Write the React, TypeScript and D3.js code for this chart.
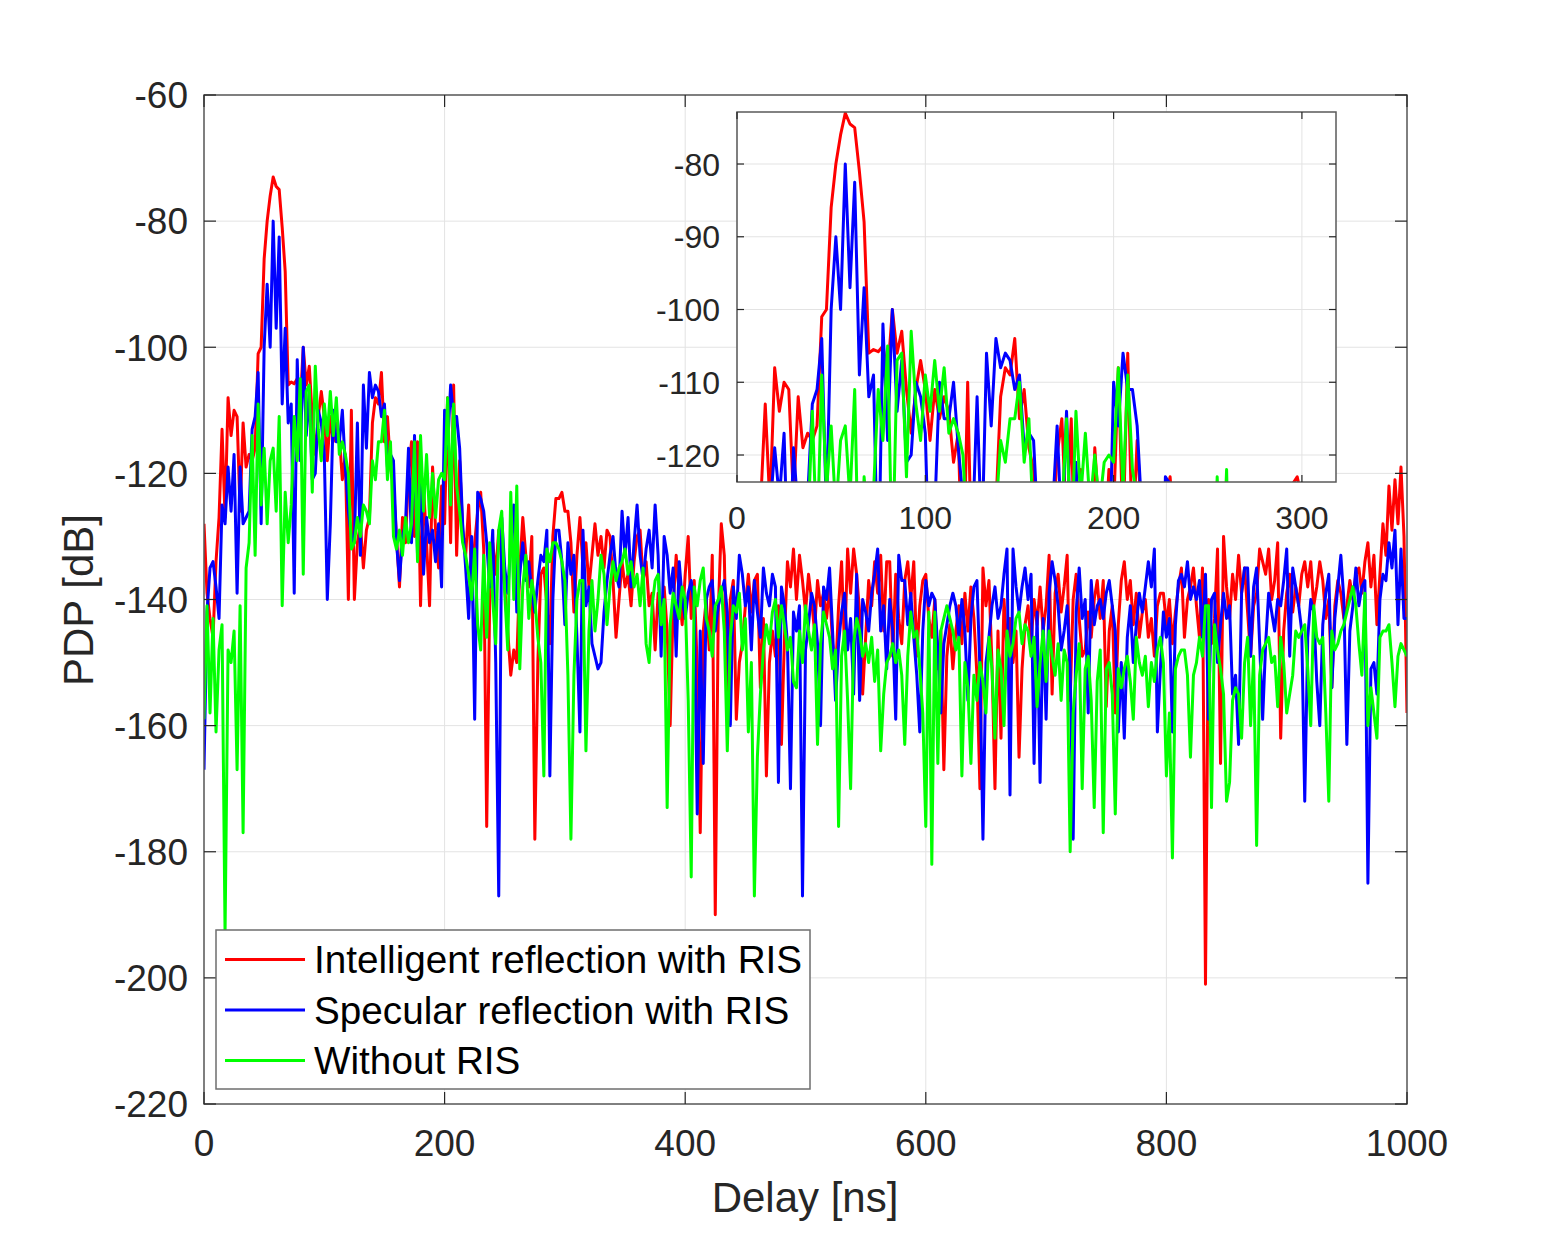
import React from 'react';
import * as d3 from 'd3';

// sampling step of the delay axis [ns]
const delayStep = 2.5;

// PDP [dB], one value per 2.5 ns from 0 to 1000 ns
const intelligentRis = [
  -128, -139, -143, -146, -134, -127, -113, -127, -108, -114,
  -110, -111, -126, -112, -119, -117, -118, -116, -101, -100,
  -86, -80, -76, -73, -74.5, -75, -81, -88, -106, -105.5,
  -105.8, -105, -109, -100, -106, -103, -111, -117, -111, -107,
  -111, -118, -111, -115, -112, -114, -121, -117, -140, -110,
  -140, -131, -128, -135, -129, -127, -112, -108, -109, -104,
  -115, -111, -119, -122, -130, -138, -127, -131, -120, -115,
  -130, -115, -141, -122, -131, -141, -119, -129, -135, -122,
  -128, -108, -131, -106, -133, -118, -129, -133, -125, -137,
  -131, -126, -123, -132, -176, -140, -131, -136, -129, -134,
  -138, -145, -152, -148, -150, -135, -127, -133, -138, -130,
  -178, -150, -136, -135, -141, -147, -130, -124, -124, -123,
  -126, -126, -131, -142, -133, -127, -135, -131, -138, -133,
  -128, -133, -130, -135, -129, -130, -137, -146, -140, -134,
  -138, -136, -141, -134, -130, -129, -137, -134, -141, -139,
  -148, -139, -144, -138, -145, -160, -141, -133, -139, -144,
  -136, -130, -143, -137, -151, -177, -145, -140, -148, -133,
  -190, -142, -128, -133, -157, -140, -137, -159, -150, -147,
  -141, -136, -142, -137, -136, -154, -143, -168, -150, -145,
  -149, -141, -163, -146, -134, -138, -132, -140, -133, -137,
  -142, -136, -140, -145, -137, -141, -139, -143, -138, -147,
  -152, -141, -134, -148, -132, -139, -132, -136, -142, -155,
  -146, -137, -141, -134, -139, -133, -145, -134, -134, -149,
  -136, -143, -147, -137, -134, -140, -134, -149, -141, -137,
  -136, -143, -146, -140, -151, -145, -167, -149, -144, -151,
  -145, -141, -147, -139, -145, -138, -143, -152, -170, -135,
  -141, -137, -150, -170, -145, -162, -140, -148, -143, -150,
  -145, -165, -151, -144, -141, -147, -140, -144, -138, -145,
  -141, -133, -155, -139, -136, -142, -138, -133, -156, -140,
  -136, -143, -149, -148, -142, -146, -140, -137, -143, -137,
  -157, -145, -141, -158, -144, -137, -134, -140, -137, -144,
  -139, -146, -142, -140, -146, -143, -149, -141, -139, -139,
  -144, -140, -147, -142, -138, -135, -146, -140, -138, -135,
  -141, -146, -135, -201, -140, -147, -143, -132, -166, -130,
  -138, -143, -136, -140, -133, -139, -135, -142, -149, -141,
  -139, -132, -134, -136, -132, -140, -137, -131, -162, -145,
  -139, -136, -142, -138, -141, -136, -134, -138, -134, -141,
  -138, -134, -137, -143, -140, -154, -141, -137, -139, -143,
  -141, -137, -140, -136, -135, -139, -134, -131, -138, -133,
  -144, -136, -128, -133, -122, -129, -121, -128, -119, -130,
  -158,
];

const specularRis = [
  -167, -142, -135, -134, -138, -143, -125, -128, -119, -126,
  -117, -139, -119, -128, -127, -126, -113, -111, -104, -128,
  -100, -90, -100, -80, -97, -82.5, -109, -97, -112, -109,
  -139, -102, -118, -100, -114, -107, -121, -120, -110, -112,
  -117, -140, -128, -110, -115, -115, -110, -119, -126, -130,
  -131, -112, -133, -106, -116, -104, -108, -106, -107, -111,
  -109, -119, -117, -118, -131, -137, -130, -128, -116, -131,
  -114, -133, -121, -136, -127, -131, -129, -134, -128, -138,
  -110, -116, -106, -111, -111, -116, -128, -135, -143, -130,
  -159, -123, -124, -126, -131, -138, -129, -150, -187, -127,
  -135, -139, -131, -125, -142, -136, -131, -137, -134, -139,
  -142, -137, -133, -134, -129, -168, -140, -129, -129, -134,
  -144, -131, -136, -133, -146, -161, -129, -141, -138, -147,
  -149, -151, -150, -142, -137, -133, -130, -136, -138, -126,
  -133, -127, -138, -131, -125, -133, -137, -132, -129, -135,
  -125, -133, -149, -130, -133, -139, -135, -149, -134, -140,
  -143, -139, -137, -141, -174, -145, -166, -140, -138, -137,
  -145, -141, -139, -137, -142, -160, -138, -143, -133, -136,
  -141, -138, -148, -137, -142, -146, -135, -139, -141, -136,
  -138, -169, -138, -141, -147, -170, -142, -145, -141, -187,
  -148, -144, -139, -141, -147, -160, -138, -140, -135, -145,
  -156, -147, -142, -139, -148, -143, -155, -136, -156, -140,
  -142, -145, -139, -136, -132, -145, -141, -151, -140, -145,
  -159, -133, -137, -137, -144, -139, -146, -152, -161, -145,
  -137, -141, -139, -140, -148, -158, -147, -144, -141, -139,
  -141, -146, -140, -145, -156, -143, -138, -137, -151, -178,
  -150, -146, -141, -138, -143, -141, -136, -132, -171, -132,
  -138, -142, -138, -135, -140, -136, -166, -142, -169, -143,
  -159, -139, -134, -137, -141, -148, -145, -141, -151, -178,
  -142, -135, -143, -140, -158, -137, -144, -141, -140, -143,
  -139, -137, -141, -145, -161, -150, -162, -146, -141, -150,
  -144, -139, -142, -138, -134, -138, -132, -161, -151, -142,
  -146, -143, -161, -144, -137, -136, -138, -134, -140, -138,
  -140, -137, -146, -136, -159, -140, -139, -150, -144, -139,
  -143, -141, -155, -152, -163, -139, -135, -135, -149, -138,
  -135, -147, -159, -147, -139, -142, -145, -140, -141, -137,
  -132, -149, -135, -138, -141, -145, -172, -146, -140, -142,
  -153, -160, -144, -139, -136, -154, -143, -138, -133, -140,
  -163, -145, -141, -135, -141, -138, -137, -185, -151, -150,
  -155, -140, -136, -137, -131, -135, -129, -144, -132, -143,
  -143,
];

const withoutRis = [
  -159, -141, -158, -143, -161, -148, -144, -193, -148, -150,
  -145, -167, -141, -177, -135, -131, -114, -133, -109, -125,
  -116, -128, -118, -116, -126, -111, -141, -123, -131, -125,
  -111, -118, -105, -136, -107, -106, -123, -103, -113, -118,
  -109, -114, -107, -114, -108, -117, -115, -117, -120, -132,
  -131, -127, -130, -125, -126, -128, -118, -121, -115, -115,
  -110, -121, -115, -130, -132, -129, -133, -127, -131, -128,
  -115, -134, -114, -126, -117, -127, -120, -127, -121, -120,
  -121, -108, -125, -109, -122, -126, -131, -133, -136, -140,
  -132, -144, -148, -133, -146, -131, -140, -147, -129, -126,
  -139, -148, -123, -140, -122, -151, -138, -133, -143, -137,
  -140, -146, -150, -168, -132, -134, -131, -131, -132, -134,
  -137, -152, -178, -152, -140, -137, -137, -164, -145, -137,
  -145, -140, -133, -136, -144, -138, -134, -137, -135, -134,
  -132, -136, -134, -138, -136, -141, -135, -147, -150, -141,
  -137, -136, -144, -140, -173, -144, -139, -141, -143, -138,
  -140, -156, -184, -138, -141, -137, -135, -143, -145, -149,
  -141, -140, -138, -145, -164, -146, -141, -142, -139, -148,
  -143, -161, -150, -187, -165, -155, -148, -144, -147, -142,
  -140, -146, -141, -144, -148, -146, -153, -154, -145, -150,
  -141, -145, -148, -144, -163, -147, -142, -144, -146, -151,
  -148, -176, -149, -145, -156, -170, -147, -143, -145, -149,
  -147, -150, -146, -153, -148, -164, -155, -150, -149, -147,
  -150, -148, -152, -163, -149, -142, -146, -145, -151, -158,
  -176, -142, -182, -142, -166, -145, -143, -141, -143, -145,
  -148, -146, -168, -150, -154, -166, -152, -156, -150, -153,
  -158, -146, -151, -162, -148, -151, -160, -145, -149, -147,
  -143, -142, -147, -144, -145, -149, -146, -157, -150, -145,
  -153, -145, -149, -152, -147, -156, -148, -150, -180, -158,
  -152, -147, -170, -151, -149, -156, -173, -153, -148, -177,
  -151, -150, -155, -174, -151, -154, -151, -149, -153, -159,
  -146, -150, -152, -149, -157, -150, -153, -148, -146, -150,
  -168, -158, -181, -151, -149, -148, -148, -152, -165, -152,
  -150, -146, -149, -141, -141, -173, -144, -148, -151, -155,
  -172, -169, -156, -154, -155, -162, -150, -146, -160, -149,
  -179, -152, -148, -147, -146, -150, -149, -157, -146, -150,
  -158, -155, -152, -145, -146, -145, -144, -151, -160, -141,
  -146, -147, -146, -158, -172, -145, -148, -147, -145, -144,
  -142, -140, -138, -141, -147, -152, -139, -160, -154, -158,
  -162, -146, -145, -145, -144, -150, -157, -149, -147, -148,
  -149,
];

const seriesLabels = ['Intelligent reflection with RIS', 'Specular reflection with RIS', 'Without RIS'];
const seriesColors = ['#ff0000', '#0000ff', '#00ff00'];

const mainXTicks = [0, 200, 400, 600, 800, 1000];
const mainYTicks = [-60, -80, -100, -120, -140, -160, -180, -200, -220];
const insetXTicks = [0, 100, 200, 300];
const insetYTicks = [-80, -90, -100, -110, -120];

const FONT = '"Liberation Sans", Arial, Helvetica, sans-serif';

const series = [intelligentRis, specularRis, withoutRis].map((values, k) => ({
  label: seriesLabels[k],
  color: seriesColors[k],
  values,
}));

type Box = { left: number; right: number; top: number; bottom: number };

function Axes(props: {
  id: string;
  box: Box;
  x: d3.ScaleLinear<number, number>;
  y: d3.ScaleLinear<number, number>;
  xTicks: number[];
  yTicks: number[];
  fontSize: number;
  tickLen: number;
  xLabelDy: number;
  yLabelDx: number;
  lineWidth: number;
}) {
  const { id, box, x, y, xTicks, yTicks, fontSize, tickLen, xLabelDy, yLabelDx, lineWidth } = props;
  const line = (vals: number[]) =>
    d3
      .line<number>()
      .x((_, i) => x(i * delayStep))
      .y((d) => y(d))(vals) ?? '';

  return (
    <g>
      <defs>
        <clipPath id={id}>
          <rect x={box.left} y={box.top} width={box.right - box.left} height={box.bottom - box.top} />
        </clipPath>
      </defs>
      <rect x={box.left} y={box.top} width={box.right - box.left} height={box.bottom - box.top} fill="#fff" />
      {/* grid */}
      {xTicks.map((t) => (
        <line key={'gx' + t} x1={x(t)} x2={x(t)} y1={box.top} y2={box.bottom} stroke="#e3e3e3" strokeWidth={1} />
      ))}
      {yTicks.map((t) => (
        <line key={'gy' + t} x1={box.left} x2={box.right} y1={y(t)} y2={y(t)} stroke="#e3e3e3" strokeWidth={1} />
      ))}
      {/* data */}
      <g clipPath={`url(#${id})`}>
        {series.map((s) => (
          <path key={s.label} d={line(s.values)} fill="none" stroke={s.color} strokeWidth={lineWidth} strokeLinejoin="round" />
        ))}
      </g>
      {/* box */}
      <rect
        x={box.left}
        y={box.top}
        width={box.right - box.left}
        height={box.bottom - box.top}
        fill="none"
        stroke="#5a5a5a"
        strokeWidth={1.5}
      />
      {/* ticks */}
      {xTicks.map((t) => (
        <g key={'tx' + t}>
          <line x1={x(t)} x2={x(t)} y1={box.bottom} y2={box.bottom - tickLen} stroke="#262626" strokeWidth={1.2} />
          <line x1={x(t)} x2={x(t)} y1={box.top} y2={box.top + tickLen} stroke="#262626" strokeWidth={1.2} />
          <text
            x={x(t)}
            y={box.bottom + xLabelDy}
            textAnchor="middle"
            fontFamily={FONT}
            fontSize={fontSize}
            fill="#262626"
          >
            {t}
          </text>
        </g>
      ))}
      {yTicks.map((t) => (
        <g key={'ty' + t}>
          <line x1={box.left} x2={box.left + tickLen} y1={y(t)} y2={y(t)} stroke="#262626" strokeWidth={1.2} />
          <line x1={box.right} x2={box.right - tickLen} y1={y(t)} y2={y(t)} stroke="#262626" strokeWidth={1.2} />
          <text
            x={box.left - yLabelDx}
            y={y(t)}
            dy="0.36em"
            textAnchor="end"
            fontFamily={FONT}
            fontSize={fontSize}
            fill="#262626"
          >
            {t}
          </text>
        </g>
      ))}
    </g>
  );
}

export default function App() {
  const W = 1554;
  const H = 1240;

  const mainBox: Box = { left: 204, right: 1407, top: 95, bottom: 1104 };
  const insetBox: Box = { left: 737, right: 1336, top: 112, bottom: 482 };

  const xMain = d3.scaleLinear().domain([0, 1000]).range([mainBox.left, mainBox.right]);
  const yMain = d3.scaleLinear().domain([-220, -60]).range([mainBox.bottom, mainBox.top]);
  const xInset = d3.scaleLinear().domain([0, 318.1]).range([insetBox.left, insetBox.right]);
  const yInset = d3.scaleLinear().domain([-123.71, -72.85]).range([insetBox.bottom, insetBox.top]);

  const legend = { x: 216, y: 930, w: 594, h: 159, rowGap: 50.5, first: 959.5 };

  return (
    <svg
      width={W}
      height={H}
      viewBox={`0 0 ${W} ${H}`}
      style={{ position: 'absolute', left: 0, top: 0, background: '#fff' }}
    >
      <rect x={0} y={0} width={W} height={H} fill="#fff" />

      <Axes
        id="clip-main"
        box={mainBox}
        x={xMain}
        y={yMain}
        xTicks={mainXTicks}
        yTicks={mainYTicks}
        fontSize={37}
        tickLen={12}
        xLabelDy={52}
        yLabelDx={16}
        lineWidth={3}
      />

      <Axes
        id="clip-inset"
        box={insetBox}
        x={xInset}
        y={yInset}
        xTicks={insetXTicks}
        yTicks={insetYTicks}
        fontSize={32}
        tickLen={7}
        xLabelDy={47}
        yLabelDx={17}
        lineWidth={3}
      />

      {/* axis titles */}
      <text
        x={805}
        y={1212}
        textAnchor="middle"
        fontFamily={FONT}
        fontSize={42}
        fill="#262626"
      >
        Delay [ns]
      </text>
      <text
        transform="translate(93,600) rotate(-90)"
        textAnchor="middle"
        fontFamily={FONT}
        fontSize={42}
        fill="#262626"
      >
        PDP [dB]
      </text>

      {/* legend */}
      <g>
        <rect x={legend.x} y={legend.y} width={legend.w} height={legend.h} fill="#fff" stroke="#6e6e6e" strokeWidth={1.5} />
        {series.map((s, k) => {
          const cy = legend.first + k * legend.rowGap;
          return (
            <g key={s.label}>
              <line x1={225} x2={305} y1={cy} y2={cy} stroke={s.color} strokeWidth={3} />
              <text x={314} y={cy} dy="0.36em" fontFamily={FONT} fontSize={38.7} fill="#000">
                {s.label}
              </text>
            </g>
          );
        })}
      </g>
    </svg>
  );
}
